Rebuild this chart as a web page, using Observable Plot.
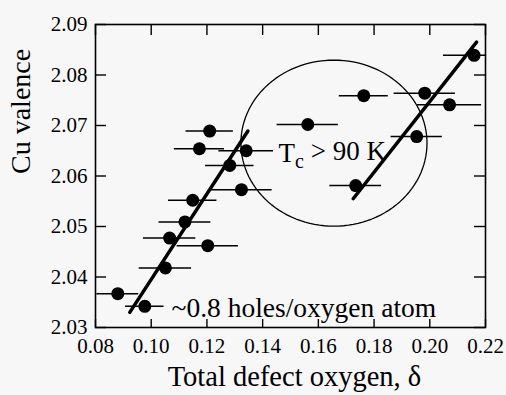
<!DOCTYPE html>
<html><head><meta charset="utf-8">
<script src="https://cdn.jsdelivr.net/npm/d3@7"></script>
<script src="https://cdn.jsdelivr.net/npm/@observablehq/plot@0.6"></script>
<style>
html,body{margin:0;padding:0;background:#f7f7f7;}
#chart svg{display:block;}
</style></head><body><div id="chart"></div>
<script>
// Data
const deltaX  = [0.0880, 0.0977, 0.1051, 0.1066, 0.1121, 0.1149, 0.1203, 0.1173, 0.1210, 0.1282, 0.1324, 0.1341, 0.1562, 0.1734, 0.1763, 0.1953, 0.1982, 0.2071, 0.2159];
const valence = [2.0367, 2.0342, 2.0418, 2.0477, 2.0509, 2.0552, 2.0462, 2.0654, 2.0689, 2.0621, 2.0573, 2.0650, 2.0702, 2.0581, 2.0759, 2.0678, 2.0764, 2.0741, 2.0839];
const xErr    = [0.0075, 0.0069, 0.0094, 0.0094, 0.0093, 0.0087, 0.0110, 0.0090, 0.0085, 0.0087, 0.0110, 0.0098, 0.0110, 0.0093, 0.0088, 0.0092, 0.0110, 0.0115, 0.0110];

const fit1X = [0.0923, 0.1347];
const fit1Y = [2.0330, 2.0689];
const fit2X = [0.1725, 0.2168];
const fit2Y = [2.0555, 2.0865];

const circleCenter = [0.1656, 2.0665];
const circleRadius = [0.0334, 0.01644];

const xTicks = [0.08, 0.10, 0.12, 0.14, 0.16, 0.18, 0.20, 0.22];
const yTicks = [2.03, 2.04, 2.05, 2.06, 2.07, 2.08, 2.09];

const xLabel = "Total defect oxygen, δ";
const yLabel = "Cu valence";
const tcLabel = "Tc > 90 K";
const holesLabel = "~0.8 holes/oxygen atom";
const tcPos = [0.1457, 2.0645];
const holesPos = [0.1073, 2.0338];

const pts = deltaX.map((x, i) => ({x, y: valence[i], e: xErr[i]}));
const fit1 = fit1X.map((x, i) => ({x, y: fit1Y[i]}));
const fit2 = fit2X.map((x, i) => ({x, y: fit2Y[i]}));
const ellipse = d3.range(0, 361, 3).map(a => ({
  x: circleCenter[0] + circleRadius[0] * Math.cos(a * Math.PI / 180),
  y: circleCenter[1] + circleRadius[1] * Math.sin(a * Math.PI / 180)
}));

const font = "Liberation Serif";
const fmt = d3.format(".2f");
const W = 506, H = 395, mL = 95, mR = 21, mT = 24, mB = 68;
const fw = W - mL - mR, fh = H - mT - mB;
const tk = {stroke: "black", strokeWidth: 1.4};

const chart = Plot.plot({
  width: W, height: H,
  marginLeft: mL, marginRight: mR, marginTop: mT, marginBottom: mB,
  style: {background: "#f7f7f7"},
  x: {domain: [0.08, 0.22], axis: null},
  y: {domain: [2.03, 2.09], axis: null},
  marks: [
    Plot.frame({stroke: "black", strokeWidth: 1.6, fill: "none"}),
    // inward ticks on all four sides
    Plot.tickX(xTicks, {x: d => d, insetTop: fh - 8, ...tk}),
    Plot.tickX(xTicks, {x: d => d, insetBottom: fh - 11, ...tk}),
    Plot.tickY(yTicks, {y: d => d, insetRight: fw - 11, ...tk}),
    Plot.tickY(yTicks, {y: d => d, insetLeft: fw - 11, ...tk}),
    // tick labels
    Plot.text(xTicks, {x: d => d, frameAnchor: "bottom", lineAnchor: "middle", dy: 19, text: d => fmt(d), fontSize: 21, fontFamily: font, fill: "black"}),
    Plot.text(yTicks, {y: d => d, frameAnchor: "left", textAnchor: "end", lineAnchor: "middle", dx: -8, text: d => fmt(d), fontSize: 21, fontFamily: font, fill: "black"}),
    Plot.line(ellipse, {x: "x", y: "y", stroke: "black", strokeWidth: 1.3}),
    Plot.ruleY(pts, {y: "y", x1: d => d.x - d.e, x2: d => d.x + d.e, stroke: "black", strokeWidth: 1.5, clip: true}),
    Plot.dot(pts, {x: "x", y: "y", r: 6.5, fill: "black"}),
    Plot.line(fit1, {x: "x", y: "y", stroke: "black", strokeWidth: 3.5}),
    Plot.line(fit2, {x: "x", y: "y", stroke: "black", strokeWidth: 3.5}),
    Plot.text([tcLabel], {x: () => tcPos[0], y: () => tcPos[1], text: d => d, textAnchor: "start", fontSize: 27, fontFamily: font, fill: "black"}),
    Plot.text([holesLabel], {x: () => holesPos[0], y: () => holesPos[1], text: d => d, textAnchor: "start", fontSize: 27.5, fontFamily: font, fill: "black"}),
    Plot.text([xLabel], {frameAnchor: "bottom", lineAnchor: "middle", text: d => d, dy: 49, dx: 4, fontSize: 28.5, fontFamily: font, fill: "black"}),
    Plot.text([yLabel], {frameAnchor: "left", lineAnchor: "middle", text: d => d, rotate: -90, dx: -74, dy: -2, fontSize: 28, fontFamily: font, fill: "black"})
  ]
});

// subscript for T_c
d3.select(chart).selectAll("text").each(function() {
  if (this.textContent === tcLabel) {
    const t = d3.select(this);
    t.text(null);
    t.append("tspan").text("T");
    t.append("tspan").attr("font-size", 20).attr("dy", "0.3em").text("c");
    t.append("tspan").attr("dy", "-0.3em").text(" > 90 K");
  }
});

document.getElementById("chart").appendChild(chart);
</script></body></html>
